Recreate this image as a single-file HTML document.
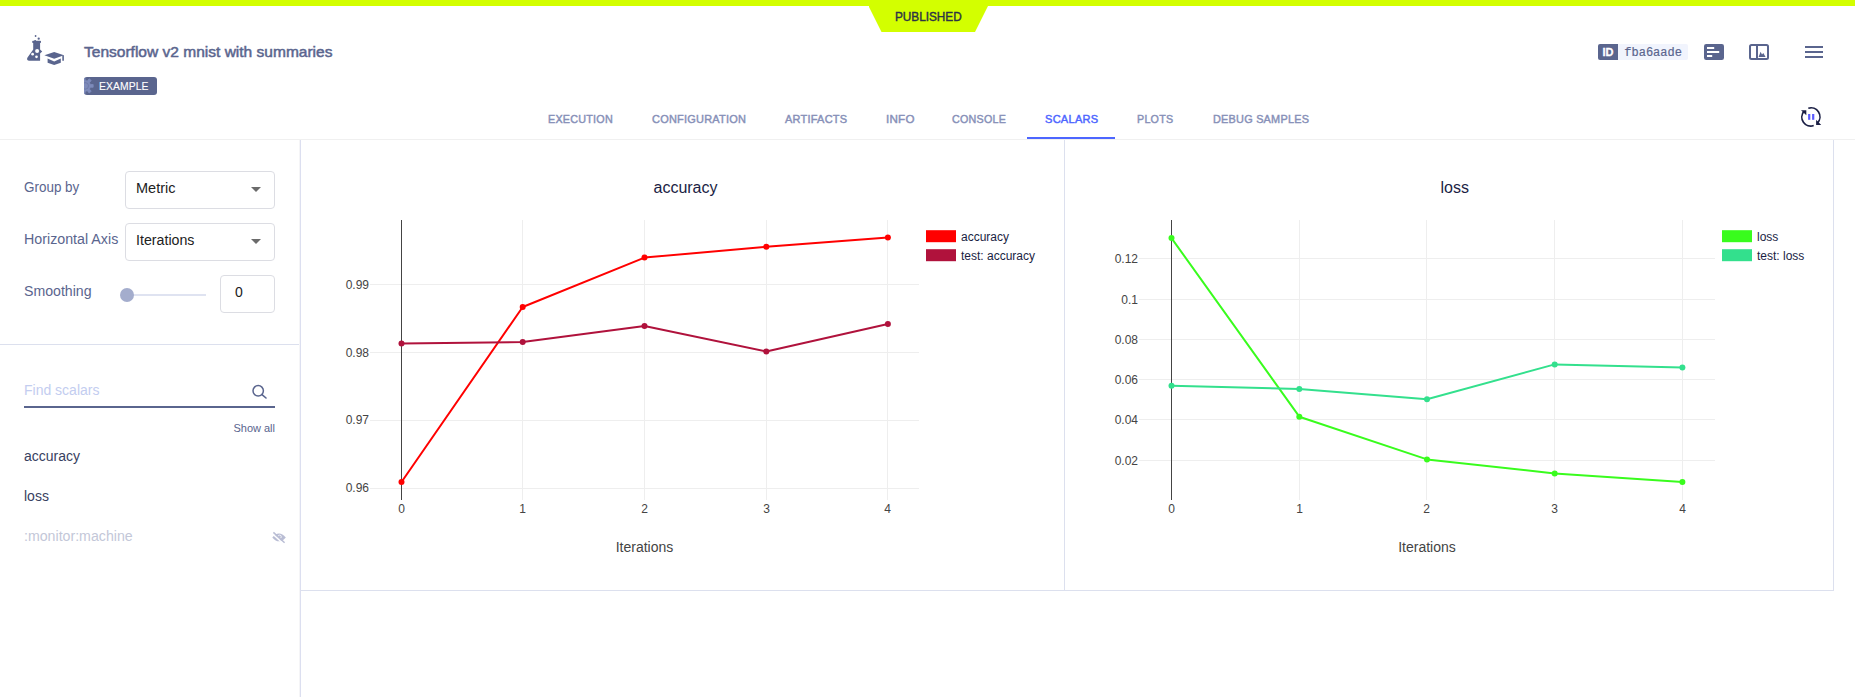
<!DOCTYPE html>
<html lang="en">
<head>
<meta charset="utf-8">
<title>Tensorflow v2 mnist with summaries</title>
<style>
*{box-sizing:border-box;margin:0;padding:0}
html,body{width:1855px;height:697px;overflow:hidden;background:#fff}
body{font-family:"Liberation Sans",sans-serif;position:relative;color:#5a658e}
.abs{position:absolute}
.sx{display:inline-block;transform-origin:0 50%;white-space:nowrap}
.topbar{left:0;top:0;width:1855px;height:6px;background:#d3ff00}
.pub{left:868.5px;top:6px;width:119.5px;height:26px;background:#d3ff00;clip-path:polygon(0 0,100% 0,106.5px 100%,13px 100%)}
.pubt{left:870px;top:10px;width:119px;text-align:center;font-size:12px;font-weight:normal;-webkit-text-stroke:0.4px #2c3246;color:#2c3246;line-height:14px}
.title{left:84px;top:42px;font-size:15px;font-weight:normal;-webkit-text-stroke:0.5px #5a658e;color:#5a658e;line-height:20px;white-space:nowrap}
.tag{left:84px;top:77px;width:73px;height:18px;border-radius:3px;background:#5a658e;color:#fff;font-size:11px;line-height:18px;overflow:hidden}
.tag span{position:absolute;left:15px;top:0;letter-spacing:0.1px;-webkit-text-stroke:0.12px #fff}
.idb{left:1598px;top:44px;width:20px;height:16px;background:#5a658e;border-radius:2px 0 0 2px;color:#fff;font-size:11px;font-weight:bold;line-height:17px;text-align:center;overflow:hidden;-webkit-text-stroke:0.3px #fff}
.idt{left:1618px;top:44px;width:70px;height:16px;background:#f1f4fd;border-radius:0 2px 2px 0;font-family:"Liberation Mono",monospace;font-size:12px;line-height:18px;color:#5a658e;padding-left:6.3px;white-space:nowrap;overflow:hidden;-webkit-text-stroke:0.2px #5a658e}
.tabs{left:0;top:0}
.tab{position:absolute;top:111.2px;font-size:11.5px;font-weight:normal;-webkit-text-stroke:0.45px #8790b8;line-height:16px;color:#8790b8;white-space:nowrap;letter-spacing:0.25px}
.tab.act{color:#4d66ff;-webkit-text-stroke-color:#4d66ff}
.tabline{left:0;top:139px;width:1855px;height:1px;background:#f0f0f0}
.tabul{left:1027px;top:137px;width:88px;height:2px;background:#4d66ff}
.side-r{left:299px;top:140px;width:2px;height:557px;background:linear-gradient(90deg,#f5f5f7 0,#f5f5f7 50%,#dcdff0 50%,#dcdff0 100%)}
.side-h{left:0;top:344px;width:299px;height:1px;background:#dce0ee}
.lbl{font-size:14px;line-height:18px;color:#5a658e;white-space:nowrap}
.sel{border:1px solid #dcdde3;border-radius:4px;background:#fff;font-size:14px;color:#212121;line-height:33px;padding-left:10px}
.caret{width:0;height:0;border-left:5px solid transparent;border-right:5px solid transparent;border-top:5px solid #6b6b6b}
.track{left:127px;top:294px;width:79px;height:2px;background:#dfe3f1}
.thumb{left:120px;top:288px;width:14px;height:14px;border-radius:50%;background:#a4adcd}
.find{left:24px;top:381px;font-size:14px;line-height:18px;color:#c3cdf0}
.findl{left:24px;top:406px;width:251px;height:2px;background:#5a658e}
.showall{left:200px;top:421px;width:75px;text-align:right;font-size:11px;line-height:14px;color:#5a658e}
.item{left:24px;font-size:14px;line-height:18px;color:#384161;white-space:nowrap}
.item.dim{color:#c3c7d8}
.ch-b{left:301px;top:590px;width:1533px;height:1px;background:#dce0ee}
.ch-r{left:1833px;top:140px;width:1px;height:451px;background:#dce0ee}
.ch-m{left:1064px;top:140px;width:1px;height:450px;background:#dce0ee}
svg text{font-family:"Liberation Sans",sans-serif}
</style>
</head>
<body>
<div class="abs topbar"></div>
<div class="abs pub"></div>
<div class="abs pubt"><span class="sx" id="t_pub" style="transform:scaleX(0.98)">PUBLISHED</span></div>

<!-- header icon placeholder -->
<svg class="abs" id="hicon" style="left:20px;top:30px" width="52" height="40" viewBox="20 30 52 40">
<g fill="#5a658e">
<circle cx="35.6" cy="36" r="0.9"/>
<circle cx="38.7" cy="38.7" r="1.15"/>
<circle cx="35.1" cy="40.9" r="1"/>
<rect x="32.2" y="40.8" width="8.8" height="2.2" rx="0.8"/>
<path d="M33.2 42.5 L33.2 49.6 L27.5 57.6 Q26 60.7 29.4 60.7 L40.1 60.7 L40.1 53.6 L42.2 51.5 L40.1 49.4 L40.1 42.5 Z"/>
<path d="M44.4 55.3 L54.2 52.1 L63.9 55.3 L54.2 58.7 Z"/>
<path d="M62.3 55.3 L63.9 55.3 L63.9 60.7 L62.3 60.7 Z"/>
<path d="M47.6 58.6 L54.2 61.4 L60.8 58.6 L60.8 62.7 L54.2 65.1 L47.6 62.7 Z"/>
</g>
<g fill="#fff">
<circle cx="37.1" cy="51" r="2"/>
<circle cx="32.6" cy="54.2" r="1.35"/>
<circle cx="36.5" cy="56.8" r="1.35"/>
</g>
</svg>

<div class="abs title"><span class="sx" id="t_title" style="transform:scaleX(1.035)">Tensorflow v2 mnist with summaries</span></div>
<div class="abs tag"><svg style="position:absolute;left:0;top:0" width="16" height="18" viewBox="0 0 16 18"><path d="M6.34 7.59 L9.18 7.53 L9.18 10.27 L6.34 10.21 L5.43 12.10 L7.25 14.29 L5.11 16.00 L3.38 13.73 L1.34 14.20 L0.76 16.99 L-1.91 16.38 L-1.22 13.61 L-2.86 12.31 L-5.40 13.60 L-6.59 11.13 L-4.00 9.95 L-4.00 7.85 L-6.59 6.67 L-5.40 4.20 L-2.86 5.49 L-1.22 4.19 L-1.91 1.42 L0.76 0.81 L1.34 3.60 L3.38 4.07 L5.11 1.80 L7.25 3.51 L5.43 5.70Z" fill="#7e8bbb" stroke="#7e8bbb" stroke-width="0.8" stroke-linejoin="round"/><circle cx="1.2" cy="8.9" r="3.3" fill="none" stroke="#6874a1" stroke-width="0.7"/></svg><span class="sx" id="t_tag" style="transform:scaleX(0.94)">EXAMPLE</span></div>

<div class="abs idb">ID</div>
<div class="abs idt">fba6aade</div>

<!-- right icons -->
<svg class="abs" style="left:1700px;top:40px" width="130" height="24" viewBox="1700 40 130 24">
<rect x="1704" y="44" width="20" height="16" rx="2.2" fill="#5a658e"/>
<g fill="#fff"><rect x="1707" y="47" width="7.2" height="2"/><rect x="1707" y="51" width="12.2" height="2"/><rect x="1707" y="55" width="5.2" height="2"/></g>
<rect x="1750" y="45" width="18" height="14" rx="1.5" fill="none" stroke="#5a658e" stroke-width="2"/>
<rect x="1756" y="45" width="2" height="14" fill="#5a658e"/>
<path d="M1758.6 57 L1760.6 51.8 L1762 54.6 L1763.3 53 L1765.6 57 Z" fill="#5a658e"/>
<g fill="#5a658e"><rect x="1805" y="46" width="18" height="2"/><rect x="1805" y="51" width="18" height="2"/><rect x="1805" y="56" width="18" height="2"/></g>
</svg>
<svg class="abs" style="left:1796px;top:103px" width="30" height="28" viewBox="1796 103 30 28">
<g fill="none" stroke="#1a1e44" stroke-width="1.7">
<path d="M1808.3 108.3 A8.9 8.9 0 0 1 1817.6 122.8"/>
<path d="M1813.7 125.5 A8.9 8.9 0 0 1 1803.9 111.4"/>
</g>
<path d="M1816.1 119.8 L1816.1 124.9 L1821.2 124.9 Z" fill="#1a1e44"/>
<path d="M1801 110.2 L1806.3 110.2 L1806.3 115.2 Z" fill="#1a1e44"/>
<rect x="1808.1" y="114" width="2.2" height="5.8" fill="#5b5bff"/>
<rect x="1812.1" y="114" width="2.2" height="5.8" fill="#5b5bff"/>
</svg>
<div class="abs tabs">
<div class="tab" style="left:548px"><span class="sx" id="t_exec" style="transform:translateY(0.4px) scaleX(0.937)">EXECUTION</span></div>
<div class="tab" style="left:652px"><span class="sx" id="t_conf" style="transform:translateY(0.4px) scaleX(0.953)">CONFIGURATION</span></div>
<div class="tab" style="left:785px"><span class="sx" id="t_arti" style="transform:translateY(0.4px) scaleX(0.955)">ARTIFACTS</span></div>
<div class="tab" style="left:886px"><span class="sx" id="t_info" style="transform:translateY(0.4px) scaleX(1.008)">INFO</span></div>
<div class="tab" style="left:952px"><span class="sx" id="t_cons" style="transform:translateY(0.4px) scaleX(0.932)">CONSOLE</span></div>
<div class="tab act" style="left:1045px"><span class="sx" id="t_scal" style="transform:translateY(0.4px) scaleX(0.963)">SCALARS</span></div>
<div class="tab" style="left:1137px"><span class="sx" id="t_plot" style="transform:translateY(0.4px) scaleX(0.932)">PLOTS</span></div>
<div class="tab" style="left:1213px"><span class="sx" id="t_debu" style="transform:translateY(0.4px) scaleX(0.946)">DEBUG SAMPLES</span></div>
</div>
<div class="abs tabline"></div>
<div class="abs tabul"></div>

<!-- sidebar -->
<div class="abs side-r"></div>
<div class="abs side-h"></div>
<div class="abs lbl" style="left:24px;top:178px"><span class="sx" style="transform:scaleX(0.96)">Group by</span></div>
<div class="abs sel" style="left:125px;top:171px;width:150px;height:38px"><span class="sx" style="transform:scaleX(1.035)">Metric</span></div>
<div class="abs caret" style="left:251px;top:187px"></div>
<div class="abs lbl" style="left:24px;top:230px"><span class="sx" style="transform:scaleX(1.018)">Horizontal Axis</span></div>
<div class="abs sel" style="left:125px;top:223px;width:150px;height:38px"><span class="sx" style="transform:scaleX(1.015)">Iterations</span></div>
<div class="abs caret" style="left:251px;top:239px"></div>
<div class="abs lbl" style="left:24px;top:282px"><span class="sx" style="transform:scaleX(1.01)">Smoothing</span></div>
<div class="abs track"></div>
<div class="abs thumb"></div>
<div class="abs sel" style="left:220px;top:275px;width:55px;height:38px;padding-left:14px">0</div>

<div class="abs find">Find scalars</div>
<div class="abs findl"></div>
<div class="abs showall">Show all</div>
<div class="abs item" style="top:447px">accuracy</div>
<div class="abs item" style="top:487px">loss</div>
<div class="abs item dim" style="top:527px"><span class="sx" style="transform:scaleX(1.012)">:monitor:machine</span></div>

<svg class="abs" style="left:250px;top:382px" width="20" height="20" viewBox="250 382 20 20"><circle cx="258.2" cy="390.8" r="5.2" fill="none" stroke="#5a658e" stroke-width="1.5"/><path d="M262 394.6 L266 398" stroke="#5a658e" stroke-width="1.6" stroke-linecap="round"/></svg>
<svg class="abs" style="left:270px;top:529px" width="18" height="17" viewBox="270 529 18 17"><path d="M272.3 537.4 Q279 529.6 285.8 537.4 Q279 545.2 272.3 537.4 Z" fill="#b9bdd4"/><circle cx="279.6" cy="536.8" r="1.7" fill="none" stroke="#fff" stroke-width="0.8"/><path d="M272.4 533.6 L283.6 544" stroke="#fff" stroke-width="1.5"/><path d="M273.4 532.4 L284.6 542.8" stroke="#b9bdd4" stroke-width="1.5"/></svg>
<!-- charts -->
<div class="abs ch-b"></div>
<div class="abs ch-r"></div>
<div class="abs ch-m"></div>

<!-- CHARTS-START -->
<svg class="abs" id="charts" style="left:0;top:0" width="1855" height="697" viewBox="0 0 1855 697">
<rect x="522" y="220" width="1" height="280" fill="#eee"/>
<rect x="644" y="220" width="1" height="280" fill="#eee"/>
<rect x="766" y="220" width="1" height="280" fill="#eee"/>
<rect x="887" y="220" width="1" height="280" fill="#eee"/>
<rect x="370" y="284" width="549" height="1" fill="#eee"/>
<rect x="370" y="352" width="549" height="1" fill="#eee"/>
<rect x="370" y="420" width="549" height="1" fill="#eee"/>
<rect x="370" y="488" width="549" height="1" fill="#eee"/>
<rect x="401" y="220" width="1" height="280" fill="#444"/>
<polyline points="401.5,482 522.7,307 644.5,257.6 766.3,246.8 887.9,237.6" fill="none" stroke="#ff0000" stroke-width="2" stroke-linejoin="round"/>
<circle cx="401.5" cy="482" r="3" fill="#ff0000"/>
<circle cx="522.7" cy="307" r="3" fill="#ff0000"/>
<circle cx="644.5" cy="257.6" r="3" fill="#ff0000"/>
<circle cx="766.3" cy="246.8" r="3" fill="#ff0000"/>
<circle cx="887.9" cy="237.6" r="3" fill="#ff0000"/>
<polyline points="401.5,343.5 522.7,342 644.5,325.9 766.3,351.5 887.9,324.1" fill="none" stroke="#b0123c" stroke-width="2" stroke-linejoin="round"/>
<circle cx="401.5" cy="343.5" r="3" fill="#b0123c"/>
<circle cx="522.7" cy="342" r="3" fill="#b0123c"/>
<circle cx="644.5" cy="325.9" r="3" fill="#b0123c"/>
<circle cx="766.3" cy="351.5" r="3" fill="#b0123c"/>
<circle cx="887.9" cy="324.1" r="3" fill="#b0123c"/>
<g font-size="12" fill="#444">
<text x="369" y="288.7" text-anchor="end">0.99</text>
<text x="369" y="356.7" text-anchor="end">0.98</text>
<text x="369" y="423.7" text-anchor="end">0.97</text>
<text x="369" y="491.7" text-anchor="end">0.96</text>
<text x="401.5" y="513" text-anchor="middle">0</text>
<text x="522.5" y="513" text-anchor="middle">1</text>
<text x="644.5" y="513" text-anchor="middle">2</text>
<text x="766.5" y="513" text-anchor="middle">3</text>
<text x="887.5" y="513" text-anchor="middle">4</text>
</g>
<text x="644.5" y="552" text-anchor="middle" font-size="14" fill="#444">Iterations</text>
<text x="685.5" y="192.5" text-anchor="middle" font-size="16" fill="#1a1e44">accuracy</text>
<rect x="926" y="230.2" width="30" height="12" fill="#ff0000"/>
<rect x="926" y="249.2" width="30" height="12" fill="#b0123c"/>
<text x="961" y="240.6" font-size="12" fill="#1a1e44">accuracy</text>
<text x="961" y="259.6" font-size="12" fill="#1a1e44">test: accuracy</text>
<rect x="1299" y="220" width="1" height="280" fill="#eee"/>
<rect x="1426" y="220" width="1" height="280" fill="#eee"/>
<rect x="1554" y="220" width="1" height="280" fill="#eee"/>
<rect x="1682" y="220" width="1" height="280" fill="#eee"/>
<rect x="1139" y="258" width="576" height="1" fill="#eee"/>
<rect x="1139" y="299" width="576" height="1" fill="#eee"/>
<rect x="1139" y="339" width="576" height="1" fill="#eee"/>
<rect x="1139" y="379" width="576" height="1" fill="#eee"/>
<rect x="1139" y="419" width="576" height="1" fill="#eee"/>
<rect x="1139" y="460" width="576" height="1" fill="#eee"/>
<rect x="1171" y="220" width="1" height="280" fill="#444"/>
<polyline points="1171.5,238.1 1299.3,416.7 1427,459.4 1554.7,473.4 1682.4,481.9" fill="none" stroke="#39fc1d" stroke-width="2" stroke-linejoin="round"/>
<circle cx="1171.5" cy="238.1" r="3" fill="#39fc1d"/>
<circle cx="1299.3" cy="416.7" r="3" fill="#39fc1d"/>
<circle cx="1427" cy="459.4" r="3" fill="#39fc1d"/>
<circle cx="1554.7" cy="473.4" r="3" fill="#39fc1d"/>
<circle cx="1682.4" cy="481.9" r="3" fill="#39fc1d"/>
<polyline points="1171.5,385.8 1299.3,388.9 1427,399.2 1554.7,364.4 1682.4,367.5" fill="none" stroke="#33e08d" stroke-width="2" stroke-linejoin="round"/>
<circle cx="1171.5" cy="385.8" r="3" fill="#33e08d"/>
<circle cx="1299.3" cy="388.9" r="3" fill="#33e08d"/>
<circle cx="1427" cy="399.2" r="3" fill="#33e08d"/>
<circle cx="1554.7" cy="364.4" r="3" fill="#33e08d"/>
<circle cx="1682.4" cy="367.5" r="3" fill="#33e08d"/>
<g font-size="12" fill="#444">
<text x="1138" y="262.7" text-anchor="end">0.12</text>
<text x="1138" y="303.7" text-anchor="end">0.1</text>
<text x="1138" y="343.7" text-anchor="end">0.08</text>
<text x="1138" y="383.7" text-anchor="end">0.06</text>
<text x="1138" y="423.7" text-anchor="end">0.04</text>
<text x="1138" y="464.7" text-anchor="end">0.02</text>
<text x="1171.5" y="513" text-anchor="middle">0</text>
<text x="1299.5" y="513" text-anchor="middle">1</text>
<text x="1426.5" y="513" text-anchor="middle">2</text>
<text x="1554.5" y="513" text-anchor="middle">3</text>
<text x="1682.5" y="513" text-anchor="middle">4</text>
</g>
<text x="1427.0" y="552" text-anchor="middle" font-size="14" fill="#444">Iterations</text>
<text x="1454.7" y="192.5" text-anchor="middle" font-size="16" fill="#1a1e44">loss</text>
<rect x="1722" y="230.2" width="30" height="12" fill="#39fc1d"/>
<rect x="1722" y="249.2" width="30" height="12" fill="#33e08d"/>
<text x="1757" y="240.6" font-size="12" fill="#1a1e44">loss</text>
<text x="1757" y="259.6" font-size="12" fill="#1a1e44">test: loss</text>
</svg>
<!-- CHARTS-END -->
</body>
</html>
